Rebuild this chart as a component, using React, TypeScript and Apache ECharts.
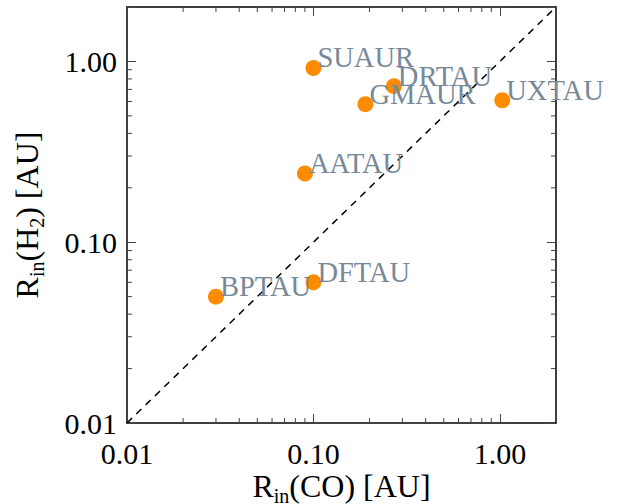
import React, { useEffect, useRef } from "react";
import * as echarts from "echarts";

// Inner disk radii of the sample stars
const stars = ["SUAUR", "DRTAU", "GMAUR", "UXTAU", "AATAU", "BPTAU", "DFTAU"];
const rinCO = [0.1, 0.27, 0.19, 1.03, 0.09, 0.03, 0.1];
const rinH2 = [0.92, 0.73, 0.58, 0.61, 0.24, 0.05, 0.06];

// Axis range (both axes share it) and the one-to-one reference line
const axisMin = 0.01;
const axisMax = 2;
const unityLine = [
  [0.01, 0.01],
  [2, 2],
];

// Minor tick values on the logarithmic axes
const minorTicks = [
  0.02, 0.03, 0.04, 0.05, 0.06, 0.07, 0.08, 0.09,
  0.2, 0.3, 0.4, 0.5, 0.6, 0.7, 0.8, 0.9,
];

const FONT = "'Liberation Serif', 'Times New Roman', serif";

const isDecade = (v: number) => {
  const l = Math.log10(v);
  return Math.abs(l - Math.round(l)) < 1e-6;
};

const tickLabel = (v: number) => (isDecade(v) ? Number(v).toFixed(2) : "");

const nameRich = {
  r: { fontSize: 32, fontFamily: FONT, color: "#000", lineHeight: 38 },
  s: { fontSize: 20, fontFamily: FONT, color: "#000", lineHeight: 19, padding: [19, 0, 0, 0] },
};

function baseAxis(extra: any) {
  return {
    type: "log",
    logBase: 10,
    min: axisMin,
    max: axisMax,
    splitLine: { show: false },
    axisLine: { show: true, lineStyle: { color: "#000", width: 1.5 } },
    axisTick: { show: true, inside: true, length: 9, lineStyle: { color: "#444", width: 1 } },
    ...extra,
  };
}

export default function App() {
  const ref = useRef<HTMLDivElement>(null);

  useEffect(() => {
    document.body.style.margin = "0";
    const chart = echarts.init(ref.current!, null, { renderer: "svg" });

    const points = stars.map((n, i) => ({ name: n, value: [rinCO[i], rinH2[i]] }));

    chart.setOption({
      animation: false,
      backgroundColor: "#fff",
      grid: { left: 127, top: 7, right: 64, bottom: 81, outerBoundsMode: "none", containLabel: false },
      xAxis: [
        baseAxis({
          position: "bottom",
          name: "{r|R}{s|in}{r|(CO) [AU]}",
          nameLocation: "middle",
          nameGap: 44,
          nameMoveOverlap: false,
          nameTextStyle: { rich: nameRich },
          axisLabel: {
            formatter: tickLabel,
            fontSize: 30,
            fontFamily: FONT,
            color: "#000",
            margin: 15,
          },
        }),
        baseAxis({ position: "top", axisLabel: { show: false } }),
      ],
      yAxis: [
        baseAxis({
          position: "left",
          name: "{r|R}{s|in}{r|(H}{s|2}{r|) [AU]}",
          nameLocation: "middle",
          nameGap: 81,
          nameMoveOverlap: false,
          nameTextStyle: { rich: nameRich },
          axisLabel: {
            formatter: tickLabel,
            fontSize: 30,
            fontFamily: FONT,
            color: "#000",
            margin: 10,
          },
        }),
        baseAxis({ position: "right", axisLabel: { show: false } }),
      ],
      series: [
        {
          type: "custom",
          coordinateSystem: "cartesian2d",
          silent: true,
          z: 1,
          data: minorTicks.map((v) => [v, v]),
          renderItem: (params: any, api: any) => {
            const cs = params.coordSys;
            const v = api.value(0);
            const x = api.coord([v, axisMin])[0];
            const y = api.coord([axisMin, v])[1];
            const len = 5;
            const style = { stroke: "#444", lineWidth: 1 };
            return {
              type: "group",
              children: [
                { type: "line", shape: { x1: x, y1: cs.y + cs.height, x2: x, y2: cs.y + cs.height - len }, style },
                { type: "line", shape: { x1: x, y1: cs.y, x2: x, y2: cs.y + len }, style },
                { type: "line", shape: { x1: cs.x, y1: y, x2: cs.x + len, y2: y }, style },
                { type: "line", shape: { x1: cs.x + cs.width, y1: y, x2: cs.x + cs.width - len, y2: y }, style },
              ],
            };
          },
        },
        {
          type: "line",
          data: unityLine,
          showSymbol: false,
          silent: true,
          z: 2,
          lineStyle: { color: "#000", width: 1.5, type: [7, 6] },
        },
        {
          type: "scatter",
          data: points,
          symbol: "circle",
          symbolSize: 16,
          z: 3,
          itemStyle: { color: "#FF8C00", opacity: 1 },
          label: {
            show: true,
            formatter: (p: any) => p.name,
            position: [12, -2],
            align: "left",
            verticalAlign: "middle",
            fontSize: 28.5,
            fontFamily: FONT,
            color: "#778899",
          },
        },
      ],
    });

    return () => chart.dispose();
  }, []);

  return <div ref={ref} style={{ width: 620, height: 504 }} />;
}
